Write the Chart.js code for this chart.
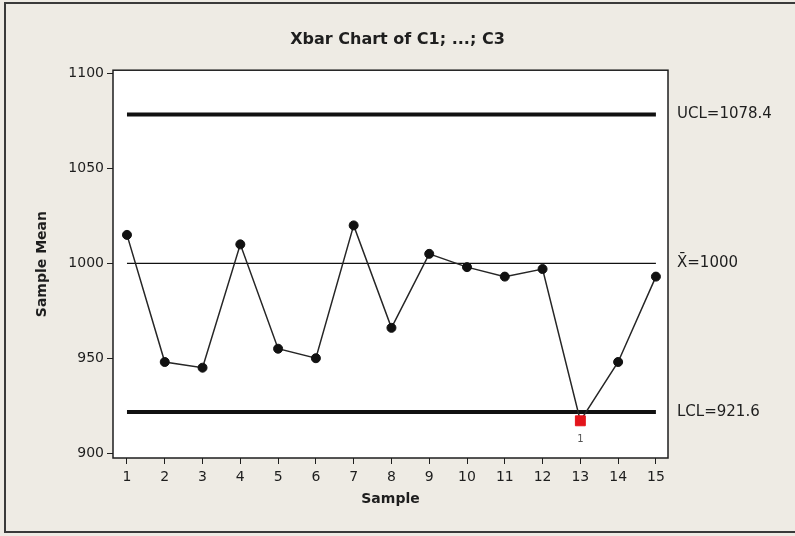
<!DOCTYPE html>
<html>
<head>
<meta charset="utf-8">
<script src="https://cdn.jsdelivr.net/npm/chart.js@4.4.1/dist/chart.umd.min.js"></script>
<style>
  html, body { margin: 0; padding: 0; background: #eeebe4; overflow: hidden; }
  #frame { position: absolute; left: 4px; top: 2px; width: 800px; height: 527px; border: 2px solid #3a3a3a; }
  #wrap { position: absolute; left: 0; top: 0; width: 795px; height: 536px; }
</style>
</head>
<body>
<div id="frame"></div>
<div id="wrap"><canvas id="main-chart" width="795" height="536"></canvas></div>
<script>
// Xbar chart data
const samples = [1, 2, 3, 4, 5, 6, 7, 8, 9, 10, 11, 12, 13, 14, 15];
const means   = [1015, 948, 945, 1010, 955, 950, 1020, 966, 1005, 998, 993, 997, 917, 948, 993];
const flags   = ['', '', '', '', '', '', '', '', '', '', '', '', '1', '', ''];  // failed tests
const yTicks  = [900, 950, 1000, 1050, 1100];
const limitValues = [921.6, 1000, 1078.4];
const limitLabels = ['LCL=921.6', 'X\u0304=1000', 'UCL=1078.4'];
const [lcl, xbar, ucl] = limitValues;

const FONT = 'DejaVu Sans, Verdana, sans-serif';
const ink = '#1e1e1e';
const yMin = 897.4, yMax = 1101.8;

// line between first and last sample, for control limits
const limitLine = v => [{ x: samples[0], y: v }, { x: samples[samples.length - 1], y: v }];

const plotBox = {
  id: 'plotBox',
  beforeDraw(c) {
    const a = c.chartArea, ctx = c.ctx;
    ctx.save();
    ctx.fillStyle = '#fff';
    ctx.fillRect(a.left, a.top, a.right - a.left, a.bottom - a.top);
    ctx.restore();
  },
  afterDatasetsDraw(c) {
    const a = c.chartArea, ctx = c.ctx;
    ctx.save();
    ctx.strokeStyle = ink;
    ctx.lineWidth = 1.5;
    ctx.strokeRect(a.left, a.top, a.right - a.left, a.bottom - a.top);
    // test labels under flagged points
    const meta = c.getDatasetMeta(0);
    ctx.fillStyle = '#555';
    ctx.font = '10px ' + FONT;
    ctx.textAlign = 'center';
    ctx.textBaseline = 'middle';
    flags.forEach((f, i) => {
      if (!f) return;
      const p = meta.data[i];
      ctx.fillText(f, p.x, p.y + 19);
    });
    ctx.restore();
  }
};

new Chart(document.getElementById('main-chart'), {
  type: 'line',
  data: {
    datasets: [
      {
        label: 'Sample Mean',
        data: samples.map((s, i) => ({ x: s, y: means[i] })),
        borderColor: '#262626',
        borderWidth: 1.5,
        pointStyle: flags.map(f => f ? 'rect' : 'circle'),
        pointRadius: flags.map(f => f ? 7 : 4.5),
        pointBackgroundColor: flags.map(f => f ? '#e3141b' : '#111'),
        pointBorderColor: flags.map(f => f ? '#e3141b' : '#111'),
        pointBorderWidth: 1,
        tension: 0
      },
      { label: 'UCL', data: limitLine(ucl), borderColor: '#111', borderWidth: 4, pointRadius: 0 },
      { label: 'Xbar', data: limitLine(xbar), borderColor: '#111', borderWidth: 1.3, pointRadius: 0 },
      { label: 'LCL', data: limitLine(lcl), borderColor: '#111', borderWidth: 4, pointRadius: 0 }
    ]
  },
  options: {
    responsive: false,
    animation: false,
    events: [],
    devicePixelRatio: 1,
    layout: { padding: 0 },
    plugins: {
      legend: { display: false },
      tooltip: { enabled: false },
      title: {
        display: true,
        text: 'Xbar Chart of C1; ...; C3',
        color: ink,
        font: { family: FONT, size: 16, weight: 'bold' },
        padding: { top: 30, bottom: 21 }
      }
    },
    scales: {
      x: {
        type: 'linear',
        min: 0.63, max: 15.32,
        afterBuildTicks: s => { s.ticks = samples.map(v => ({ value: v })); },
        afterFit: s => { s.height = 78; },
        grid: { display: true, drawOnChartArea: false, drawTicks: true, tickLength: 6, color: ink, lineWidth: 1 },
        border: { display: false },
        ticks: { color: ink, autoSkip: false, maxRotation: 0, padding: 5, font: { family: FONT, size: 14 }, callback: v => String(v) },
        title: { display: true, text: 'Sample', color: ink, font: { family: FONT, size: 14, weight: 'bold' }, padding: { top: 0, bottom: 28 } }
      },
      y: {
        min: yMin, max: yMax,
        afterBuildTicks: s => { s.ticks = yTicks.map(v => ({ value: v })); },
        afterFit: s => { s.width = 113; },
        grid: { display: true, drawOnChartArea: false, drawTicks: true, tickLength: 6, color: ink, lineWidth: 1 },
        border: { display: false },
        ticks: { color: ink, padding: 3, font: { family: FONT, size: 14 }, callback: v => String(v) },
        title: { display: true, text: 'Sample Mean', color: ink, font: { family: FONT, size: 14, weight: 'bold' }, padding: { top: 34, bottom: 0 } }
      },
      yLimits: {
        position: 'right',
        min: yMin, max: yMax,
        afterBuildTicks: s => { s.ticks = limitValues.map(v => ({ value: v })); },
        afterFit: s => { s.width = 127; },
        grid: { display: false, drawTicks: false },
        border: { display: false },
        ticks: { color: ink, padding: 9, font: { family: FONT, size: 15 }, callback: (v, i) => limitLabels[i] }
      }
    }
  },
  plugins: [plotBox]
});
</script>
</body>
</html>
